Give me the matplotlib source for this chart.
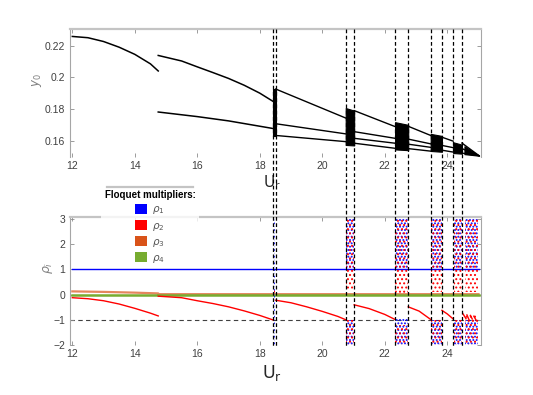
import matplotlib
matplotlib.use("Agg")
import matplotlib.pyplot as plt
import matplotlib.transforms as mtransforms
from matplotlib.lines import Line2D
from matplotlib.patches import Patch

plt.rcParams["font.family"] = ["Liberation Sans", "DejaVu Sans"]
plt.rcParams["hatch.linewidth"] = 0.9

# ---- top panel: y0 bifurcation branches ----
branch1_x = [12.0, 12.5, 13.0, 13.5, 14.0, 14.5, 14.75]
branch1_y = [0.2258, 0.2250, 0.2226, 0.2190, 0.2145, 0.2085, 0.2040]
branch2_x = [14.75, 15.5, 16.0, 16.5, 17.0, 17.5, 18.0, 18.45]
branch2_y = [0.2138, 0.2103, 0.2066, 0.2030, 0.1993, 0.1950, 0.1900, 0.1845]
branch3_x = [14.75, 16.0, 17.0, 18.45]
branch3_y = [0.1781, 0.1752, 0.1725, 0.1676]

# periodic branches between the chaotic windows
gap_x0 = [18.51, 21.02, 22.75, 23.83, 24.47]
gap_x1 = [20.75, 22.33, 23.47, 24.19, 25.02]
gap_y = [
    [(0.1926, 0.1743), (0.1707, 0.1643), (0.1633, 0.1594)],
    [(0.1790, 0.1689), (0.1657, 0.1615), (0.1615, 0.1584), (0.1584, 0.1552)],
    [(0.1691, 0.1633), (0.1610, 0.1580), (0.1578, 0.1558), (0.1550, 0.1534)],
    [(0.1622, 0.1597), (0.1570, 0.1556), (0.1540, 0.1528)],
    [(0.1585, 0.1505), (0.1550, 0.1505), (0.1522, 0.1505)],
]

# chaotic windows (filled black in top panel)
win_x0 = [18.43, 20.75, 22.33, 23.47, 24.19, 24.55]
win_x1 = [18.51, 21.02, 22.75, 23.83, 24.47, 25.02]
win_top0 = [0.1927, 0.1806, 0.1717, 0.1643, 0.1590, 0.1565]
win_top1 = [0.1927, 0.1790, 0.1700, 0.1630, 0.1575, 0.1505]
win_bot0 = [0.1632, 0.1573, 0.1545, 0.1535, 0.1522, 0.1515]
win_bot1 = [0.1632, 0.1570, 0.1540, 0.1530, 0.1518, 0.1505]

# dashed boundaries of the windows
bound_x = [18.43, 18.51, 20.75, 21.02, 22.33, 22.75, 23.47, 23.83, 24.19, 24.47]

# ---- bottom panel: Floquet multipliers ----
rho1_x = [12.0, 25.0]
rho1_y = [1.0, 1.0]
rho4_x = [12.0, 25.0]
rho4_y = [0.0, 0.0]
rho3_x = [12.0, 13.0, 14.0, 14.75, 14.75, 25.0]
rho3_y = [0.13, 0.11, 0.08, 0.05, 0.02, 0.02]

rho2_segments = [
    ([12.0, 12.5, 13.0, 13.5, 14.0, 14.5, 14.75],
     [-0.12, -0.16, -0.24, -0.37, -0.54, -0.73, -0.84]),
    ([14.75, 15.5, 16.0, 16.5, 17.0, 17.5, 18.0, 18.43],
     [-0.06, -0.12, -0.24, -0.35, -0.48, -0.64, -0.82, -1.0]),
    ([18.51, 19.0, 19.5, 20.0, 20.5, 20.75],
     [-0.22, -0.32, -0.48, -0.66, -0.86, -0.99]),
    ([21.02, 21.5, 22.0, 22.33], [-0.40, -0.55, -0.78, -0.98]),
    ([22.75, 23.1, 23.47], [-0.48, -0.65, -0.98]),
    ([23.83, 24.0, 24.19], [-0.62, -0.76, -0.96]),
    ([24.50, 24.60], [-0.75, -0.95]),
    ([24.63, 24.70], [-0.80, -1.0]),
    ([24.74, 24.80], [-0.82, -0.96]),
    ([24.85, 24.92], [-0.85, -1.0]),
]

# scattered multipliers inside the windows: x0, x1, y0, y1
blue_x0 = [18.44, 20.76, 20.76, 22.34, 22.34, 23.48, 23.48, 24.20, 24.20, 24.56, 24.56]
blue_x1 = [18.50, 21.01, 21.01, 22.74, 22.74, 23.82, 23.82, 24.46, 24.46, 24.98, 24.98]
blue_y0 = [-2.0, 1.0, -2.0, 1.0, -2.0, 1.0, -2.0, 1.0, -2.0, 1.0, -2.0]
blue_y1 = [3.0, 3.0, -1.0, 3.0, -0.95, 3.0, -1.0, 3.0, -1.0, 3.0, -1.0]
red_x0 = [18.44, 20.76, 20.76, 22.34, 22.34, 23.48, 23.48, 24.20, 24.20, 24.56, 24.56]
red_x1 = [18.50, 21.01, 21.01, 22.74, 22.74, 23.82, 23.82, 24.46, 24.46, 24.98, 24.98]
red_y0 = [-0.1, 0.2, -2.0, 0.05, -2.0, 0.1, -2.0, 0.1, -2.0, 0.1, -2.0]
red_y1 = [0.3, 3.0, -1.0, 3.0, -1.2, 3.0, -1.0, 3.0, -1.0, 3.0, -0.8]

legend_labels = [r"$\rho_1$", r"$\rho_2$", r"$\rho_3$", r"$\rho_4$"]
legend_colors = ["#0000ff", "#ff0000", "#d95319", "#77ac30"]

W, H = 533, 395
fig = plt.figure(figsize=(W / 100, H / 100), dpi=100)
ax1 = fig.add_axes([69.5 / W, 1 - 157 / H, 411.5 / W, 128 / H])
ax2 = fig.add_axes([69.5 / W, 1 - 345.3 / H, 411.5 / W, 128.6 / H])

spine_col = "#a6a6a6"
for ax in (ax1, ax2):
    ax.set_xlim(11.91, 25.08)
    for side in ("left", "right", "top"):
        ax.spines[side].set_color(spine_col)
        ax.spines[side].set_linewidth(0.8)
    ax.spines["bottom"].set_visible(False)
    ax.spines["top"].set_linewidth(1.6)
    ax.spines["top"].set_color("#c4c4c4")
    ax.tick_params(direction="in", length=3, width=0.6, color="#8c8c8c",
                   labelsize=7.5, labelcolor="#404040", top=True, right=True, pad=3)
    ax.set_xticks([12, 14, 16, 18, 20, 22, 24])
    ax.set_xticklabels(["12", "14", "16", "18", "20", "22", "24"])

# top panel
ax1.set_ylim(0.1497, 0.2305)
ax1.set_yticks([0.16, 0.18, 0.20, 0.22])
ax1.set_yticklabels(["0.16", "0.18", "0.2", "0.22"])
lc = "black"
ax1.plot(branch1_x, branch1_y, color=lc, lw=1.1)
ax1.plot(branch2_x, branch2_y, color=lc, lw=1.1)
ax1.plot(branch3_x, branch3_y, color=lc, lw=1.1)
for x0, x1, ys in zip(gap_x0, gap_x1, gap_y):
    for y0, y1 in ys:
        ax1.plot([x0, x1], [y0, y1], color=lc, lw=1.0)
for x0, x1, t0, t1, b0, b1 in zip(win_x0, win_x1, win_top0, win_top1, win_bot0, win_bot1):
    ax1.fill_between([x0, x1], [b0, b1], [t0, t1], color="black", lw=0.8)

# bottom panel
ax2.set_ylim(-2.0, 3.08)
ax2.set_yticks([-2, -1, 0, 1, 2, 3])
ax2.axhline(-1, color="#404040", lw=0.8, ls=(0, (4, 3)), zorder=1)
ax2.plot(rho1_x, rho1_y, color="#0000ff", lw=1.0, zorder=2)
ax2.plot(rho3_x, rho3_y, color="#d95319", lw=1.6, alpha=0.7, zorder=2)
ax2.plot(rho4_x, rho4_y, color="#77ac30", lw=1.8, zorder=3)
for xs, ys in rho2_segments:
    ax2.plot(xs, ys, color="#ff0000", lw=1.0, zorder=4)
for x0, x1, y0, y1 in zip(blue_x0, blue_x1, blue_y0, blue_y1):
    ax2.fill_between([x0, x1], [y0, y0], [y1, y1], facecolor="none",
                     edgecolor="#0000ff", hatch=".....", lw=0, zorder=5)
for x0, x1, y0, y1 in zip(red_x0, red_x1, red_y0, red_y1):
    ax2.fill_between([x0, x1], [y0, y0], [y1, y1], facecolor="none",
                     edgecolor="#ff0000", hatch="....", lw=0, zorder=6)

# dashed window boundaries spanning both panels
trans = mtransforms.blended_transform_factory(ax1.transData, fig.transFigure)
for bx in bound_x:
    fig.add_artist(Line2D([bx, bx], [1 - 29 / H, 1 - 346 / H], transform=trans,
                          color="black", lw=0.9, ls=(0, (3, 2)), zorder=10))

# axis labels
fig.text(272 / W, 1 - 183 / H, r"$\mathrm{U}_\mathrm{r}$", fontsize=11,
         ha="center", va="center", color="#262626")
fig.text(272 / W, 1 - 373 / H, r"$\mathrm{U}_\mathrm{r}$", fontsize=12.5,
         ha="center", va="center", color="#262626")
fig.text(37 / W, 1 - 80 / H, r"$y_0$", fontsize=8.5, rotation=90,
         ha="center", va="center", color="#7f7f7f")
fig.text(48 / W, 1 - 268 / H, r"$\rho_i$", fontsize=9, rotation=90,
         ha="center", va="center", color="#7f7f7f")

# legend
handles = [Patch(facecolor=c, edgecolor="none") for c in legend_colors]
leg = fig.legend(handles, legend_labels, title="Floquet multipliers:",
                 loc="upper center", bbox_to_anchor=(150 / W, 1 - 187 / H),
                 fontsize=7.5, title_fontsize=7, frameon=True, fancybox=False,
                 handlelength=1.1, handleheight=1.1, handletextpad=0.5,
                 labelspacing=0.35, borderpad=0.3, borderaxespad=0)
leg.get_title().set_fontweight("bold")
leg.get_frame().set_facecolor("white")
leg.get_frame().set_edgecolor("none")
for t in leg.get_texts():
    t.set_color("#555555")
fig.add_artist(Line2D([107 / W, 193 / W], [1 - 187.3 / H, 1 - 187.3 / H],
                      transform=fig.transFigure, color="#c4c4c4", lw=1.6, zorder=11))

fig.savefig("out.png", dpi=100)
